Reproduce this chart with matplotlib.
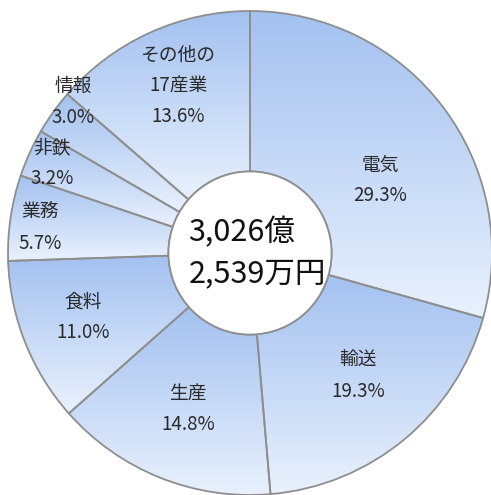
import numpy as np
import matplotlib
matplotlib.use("Agg")
import matplotlib.pyplot as plt
from matplotlib.colors import LinearSegmentedColormap

plt.rcParams['font.family'] = ['Noto Sans CJK JP', 'DejaVu Sans']

# data
names = ["電気", "輸送", "生産", "食料", "業務", "非鉄", "情報", "その他の\n17産業"]
shares = [29.3, 19.3, 14.8, 11.0, 5.7, 3.2, 3.0, 13.6]
total_label = "3,026億\n2,539万円"

# label placement: angle (deg, clockwise from top) and distance (fraction of radius)
label_ang = [60.7, 138.7, 201.7, 249.0, 276.8, 294.4, 310.5, 336.7]
label_r = [0.616, 0.676, 0.694, 0.739, 0.874, 0.899, 0.961, 0.752]

fig = plt.figure(figsize=(4.91, 4.95), dpi=100)
ax = fig.add_axes([0, 0, 1, 1])

hole = 0.337
edge = "#8e8e8e"
wedges, _ = ax.pie(shares, startangle=90, counterclock=False, radius=1.0,
                   wedgeprops=dict(width=1 - hole, edgecolor=edge, linewidth=1.3,
                                   facecolor="none", zorder=3))

cmap = LinearSegmentedColormap.from_list("blu", ["#a3c1f0", "#e9f1fd"])
grad = np.linspace(0, 1, 256).reshape(-1, 1)
for w in wedges:
    ext = w.get_path().get_extents()
    im = ax.imshow(grad, cmap=cmap, aspect="auto", origin="upper",
                   extent=[ext.x0, ext.x1, ext.y0, ext.y1], zorder=1,
                   interpolation="bilinear")
    im.set_clip_path(w)

# centre hole
ax.add_patch(plt.Circle((0, 0), hole, facecolor="white", edgecolor=edge,
                        linewidth=1.3, zorder=4))

# slice labels
for name, s, a, r in zip(names, shares, label_ang, label_r):
    t = np.deg2rad(a)
    ax.text(r * np.sin(t), r * np.cos(t), f"{name}\n{s:.1f}%",
            ha="center", va="center", fontsize=13.5, color="#2a2a2a",
            linespacing=1.58, zorder=5)

ax.text(0.03, 0.0, total_label, ha="center", va="center", multialignment="left",
        fontsize=22, color="#111111", linespacing=1.42, zorder=5)

ax.set_xlim(-250 / 242, 241 / 242)
ax.set_ylim(-242 / 242, 253 / 242)
ax.set_aspect("equal")
ax.axis("off")

fig.savefig("out.png", dpi=100, facecolor="white")
